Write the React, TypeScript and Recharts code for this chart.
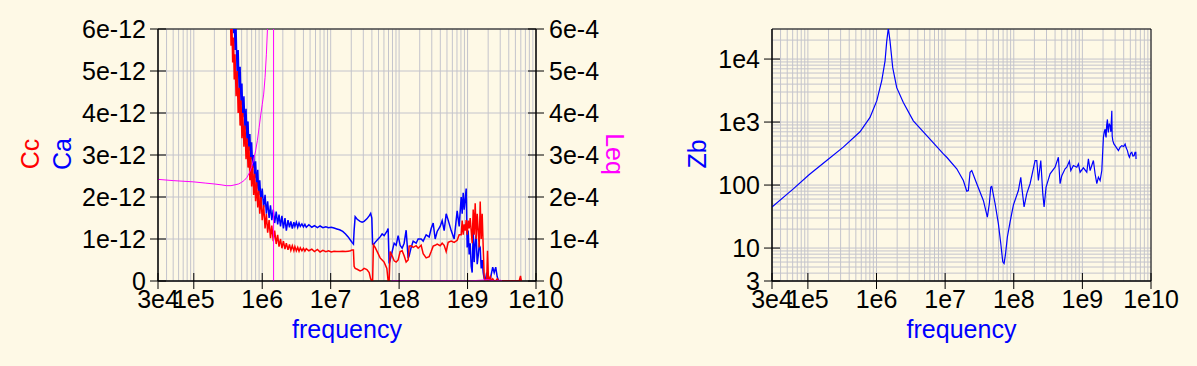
import React from 'react';
import { LineChart, Line, XAxis, YAxis, CartesianGrid, ReferenceArea } from 'recharts';

const FONT = '"Liberation Sans", Arial, Helvetica, sans-serif';
const BG = '#fef9e6';
const GRID = '#c4c4cc';
const FS = 25;

// ---------- axis tick labels ----------
const xMajorTicks = [3e4, 1e5, 1e6, 1e7, 1e8, 1e9, 1e10];
const xMajorLabels = ['3e4', '1e5', '1e6', '1e7', '1e8', '1e9', '1e10'];
const cTicks = [0, 1e-12, 2e-12, 3e-12, 4e-12, 5e-12, 6e-12];
const cLabels = ['0', '1e-12', '2e-12', '3e-12', '4e-12', '5e-12', '6e-12'];
const leqTicks = [0, 1e-4, 2e-4, 3e-4, 4e-4, 5e-4, 6e-4];
const leqLabels = ['0', '1e-4', '2e-4', '3e-4', '4e-4', '5e-4', '6e-4'];
const zbMajorTicks = [3, 10, 100, 1000, 10000];
const zbMajorLabels = ['3', '10', '100', '1e3', '1e4'];

// ---------- left panel: Cc (red) and Ca (blue), values in pF ----------
const freqC = [
  3.0e5, 3.1e5, 3.2e5, 3.3e5, 3.4e5, 3.5e5, 3.6e5, 3.7e5, 3.8e5, 3.9e5,
  4.0e5, 4.15e5, 4.3e5, 4.45e5, 4.6e5, 4.75e5, 4.9e5, 5.05e5, 5.2e5, 5.4e5,
  5.6e5, 5.8e5, 6.0e5, 6.2e5, 6.4e5, 6.6e5, 6.8e5, 7.0e5, 7.25e5, 7.5e5,
  7.75e5, 8.0e5, 8.3e5, 8.6e5, 8.9e5, 9.2e5, 9.6e5, 1.0e6, 1.05e6, 1.1e6,
  1.15e6, 1.2e6, 1.26e6, 1.32e6, 1.38e6, 1.45e6, 1.52e6, 1.6e6, 1.68e6, 1.76e6,
  1.85e6, 1.94e6, 2.04e6, 2.15e6, 2.25e6, 2.38e6, 2.5e6, 2.62e6, 2.75e6, 2.9e6,
  3.0e6, 3.15e6, 3.3e6, 3.45e6, 3.6e6, 3.8e6, 4.0e6, 4.2e6, 4.4e6, 4.8e6,
  5.3e6, 5.8e6, 6.4e6, 7.0e6, 7.7e6, 8.5e6, 9.3e6, 1.02e7, 1.12e7, 1.23e7,
  1.35e7, 1.5e7, 1.65e7, 1.8e7, 1.95e7, 2.05e7, 2.15e7, 2.2e7, 2.28e7, 2.44e7,
  2.69e7, 2.88e7, 3.08e7, 3.38e7, 3.65e7, 3.84e7, 3.99e7, 4.1e7, 4.21e7, 4.46e7,
  4.94e7, 5.28e7, 5.65e7, 6.04e7, 6.62e7, 6.91e7, 7.15e7, 7.4e7, 7.91e7, 8.46e7,
  9.05e7, 9.68e7, 1.035e8, 1.107e8, 1.184e8, 1.267e8, 1.355e8, 1.401e8, 1.499e8, 1.604e8,
  1.774e8, 1.898e8, 2.099e8, 2.246e8, 2.484e8, 2.748e8, 2.939e8, 3.145e8, 3.363e8, 3.597e8,
  3.979e8, 4.256e8, 4.553e8, 4.87e8, 5.21e8, 5.763e8, 6.375e8, 7.052e8, 7.544e8, 8.07e8,
  8.346e8, 8.633e8, 8.93e8, 9.232e8, 9.548e8, 9.874e8, 1.021e9, 1.056e9, 1.092e9, 1.13e9,
  1.168e9, 1.209e9, 1.25e9, 1.293e9, 1.337e9, 1.383e9, 1.43e9, 1.479e9, 1.53e9, 1.582e9,
  1.636e9, 1.693e9, 1.751e9, 1.81e9, 1.904e9, 1.956e9, 2.023e9, 2.142e9, 2.215e9, 2.331e9,
  2.451e9, 2.578e9, 2.711e9, 2.852e9, 3.55e9, 5.686e9, 5.94e9, 6.08e9,
];

const ccPF = [
  7.6, 7.1, 6.9, 6.2, 6.7, 5.6, 6.2, 5.2, 5.8, 4.8,
  5.4, 4.4, 5.0, 4.0, 4.6, 3.7, 4.3, 3.4, 4.0, 3.2,
  3.7, 2.9, 3.4, 2.7, 3.2, 2.4, 2.95, 2.25, 2.75, 2.05,
  2.55, 1.9, 2.35, 1.75, 2.15, 1.6, 2.0, 1.45, 1.8, 1.25,
  1.6, 1.15, 1.45, 1.02, 1.32, 0.95, 1.2, 0.88, 1.1, 0.82,
  1.0, 0.78, 0.95, 0.76, 0.9, 0.74, 0.87, 0.73, 0.84, 0.72,
  0.82, 0.72, 0.8, 0.71, 0.79, 0.72, 0.78, 0.71, 0.77, 0.72,
  0.76, 0.7, 0.75, 0.69, 0.73, 0.7, 0.72, 0.69, 0.71, 0.7,
  0.7, 0.71, 0.7, 0.71, 0.72, 0.74, 0.74, 0.35, 0.3, 0.28,
  0.24, 0.26, 0.3, 0.27, 0.2, 0.05, 0.0, 0.0, 0.86, 0.8,
  0.65, 0.55, 0.5, 0.45, 0.3, 0.0, 0.0, 0.7, 0.6, 0.48,
  0.45, 0.5, 0.7, 0.72, 0.6, 0.45, 0.5, 0.83, 0.84, 0.8,
  0.84, 0.78, 0.85, 0.65, 0.55, 0.58, 0.7, 0.83, 0.85, 0.88,
  0.84, 0.9, 0.85, 0.7, 0.92, 0.95, 0.92, 0.97, 1.1, 1.1,
  1.44, 1.1, 1.35, 1.2, 1.45, 1.1, 1.44, 1.25, 1.5, 1.2,
  0.9, 1.7, 1.1, 1.85, 1.0, 1.6, 1.2, 0.8, 1.89, 1.0,
  1.6, 0.8, 0.1, 0.0, 0.0, 0.72, 0.0, 0.1, 0.0, 0.05,
  0.0, 0.0, 0.05, 0.0, 0.0, 0.0, 0.12, 0.0,
];

const caPF = [
  8.5, 8.0, 7.6, 7.2, 7.0, 6.8, 6.4, 6.7, 5.9, 6.3,
  5.5, 6.0, 4.9, 5.5, 4.5, 5.1, 4.2, 4.7, 3.9, 4.4,
  3.6, 4.1, 3.3, 3.8, 3.1, 3.5, 2.9, 3.3, 2.7, 3.0,
  2.45, 2.85, 2.2, 2.65, 2.05, 2.4, 1.9, 2.2, 1.75, 2.05,
  1.6, 1.9, 1.5, 1.8, 1.45, 1.7, 1.38, 1.65, 1.35, 1.58,
  1.3, 1.55, 1.25, 1.5, 1.2, 1.45, 1.28, 1.42, 1.25, 1.4,
  1.3, 1.4, 1.28, 1.38, 1.3, 1.36, 1.29, 1.35, 1.28, 1.34,
  1.28, 1.32, 1.27, 1.31, 1.27, 1.29, 1.27, 1.28, 1.26, 1.24,
  1.22, 1.18, 1.12, 1.05, 0.97, 0.92, 0.88, 1.2, 1.53, 1.47,
  1.42, 1.4, 1.42, 1.48, 1.55, 1.61, 1.5, 0.88, 0.86, 0.92,
  1.0, 1.05, 1.12, 1.08, 1.18, 1.25, 0.42, 0.5, 0.7, 0.9,
  0.85, 1.08, 0.85, 0.78, 0.9, 1.21, 0.54, 0.6, 0.8, 0.95,
  0.9, 1.0, 1.0, 0.95, 1.1, 1.05, 1.25, 1.38, 1.0, 1.18,
  1.3, 1.44, 1.2, 1.6, 1.45, 1.2, 1.0, 1.67, 1.3, 2.0,
  1.6, 2.1, 1.7, 1.95, 2.2, 0.8, 1.2, 0.63, 0.9, 0.35,
  0.2, 1.2, 0.45, 0.9, 1.1, 0.4, 0.6, 0.85, 0.8, 0.3,
  0.5, 0.2, 0.05, 0.0, 0.2, 0.0, 0.05, 0.0, 0.15, 0.33,
  0.2, 0.33, 0.1, 0.0, 0.0, 0.0, 0.05, 0.0,
];

// ---------- left panel: Leq (magenta), values in 1e-4 ----------
const freqL = [
  3e4, 5e4, 1e5, 1.5e5, 2e5, 2.5e5, 3e5, 3.5e5, 4e5, 4.5e5,
  5e5, 5.5e5, 6e5, 6.5e5, 7e5, 7.5e5, 8e5, 8.5e5, 9e5, 9.5e5,
  1.0e6, 1.05e6, 1.1e6, 1.15e6, 1.2e6, 1.25e6, 1.3e6, 1.4e6, 1.46e6, 1.47e6,
  1.6e6, 2e6, 5e6, 1e7, 3e7, 6e7, 7.2e7, 7.6e7, 1e8, 2e8,
  5e8, 1e9, 2e9, 2.5e9, 3e9, 3.2e9, 3.3e9,
];
const leqE4 = [
  2.42, 2.39, 2.36, 2.33, 2.31, 2.29, 2.27, 2.27, 2.29, 2.31,
  2.35, 2.4, 2.47, 2.58, 2.72, 2.9, 3.1, 3.35, 3.65, 3.95,
  4.2, 4.45, 4.85, 5.4, 6.1, 7.0, 9.0, 20, 400, -400,
  -60, -15, -4, -2, -0.8, -0.2, -0.05, 0.0, 0.01, 0.0,
  0.01, 0.0, 0.03, 0.0, 0.02, 0.0, -0.5,
];

// ---------- right panel: Zb ----------
const freqZ = [
  3.0e4, 6.13e4, 1.05e5, 1.88e5, 3.28e5, 5.75e5, 8.04e5, 1.008e6, 1.19e6, 1.331e6,
  1.41e6, 1.487e6, 1.574e6, 1.724e6, 1.971e6, 2.46e6, 3.44e6, 5.4e6, 9.42e6, 1.056e7,
  1.477e7, 1.843e7, 2.067e7, 2.18e7, 2.308e7, 2.444e7, 2.891e7, 3.607e7, 4.126e7, 4.412e7,
  4.624e7, 4.782e7, 5.342e7, 5.968e7, 6.468e7, 6.918e7, 7.226e7, 7.549e7, 8.072e7, 8.841e7,
  9.874e7, 1.168e8, 1.266e8, 1.309e8, 1.414e8, 1.548e8, 1.729e8, 2.046e8, 2.165e8, 2.285e8,
  2.477e8, 2.649e8, 2.767e8, 2.959e8, 3.384e8, 4.003e8, 4.472e8, 4.734e8, 5.012e8, 5.6e8,
  5.929e8, 6.468e8, 6.78e8, 7.398e8, 8.295e8, 8.75e8, 9.265e8, 1.035e9, 1.16e9, 1.224e9,
  1.296e9, 1.448e9, 1.532e9, 1.623e9, 1.712e9, 1.813e9, 1.919e9, 2.025e9, 2.08e9, 2.144e9,
  2.18e9, 2.217e9, 2.26e9, 2.317e9, 2.35e9, 2.395e9, 2.45e9, 2.536e9, 2.6e9, 2.685e9,
  2.72e9, 2.777e9, 2.88e9, 3.0e9, 3.15e9, 3.351e9, 3.55e9, 3.756e9, 4.0e9, 4.196e9,
  4.35e9, 4.532e9, 4.7e9, 4.848e9, 5.05e9, 5.254e9, 5.45e9, 5.675e9, 5.85e9, 6.008e9,
  6.05e9,
];
const zbVals = [
  44.8, 87, 147, 245, 400, 700, 1183, 2168, 4486, 9290,
  19230, 31000, 19230, 7280, 3520, 2040, 1047, 608, 312, 276,
  181, 118, 80, 82, 160, 170, 105, 57, 31, 51,
  93, 95, 51, 24.4, 11.8, 6.05, 5.7, 7.7, 15, 26,
  48, 82, 133, 93, 45, 73, 105, 245, 245, 118,
  245, 73, 45, 93, 151, 192, 276, 105, 141, 181,
  192, 239, 170, 204, 192, 217, 160, 188, 160, 260,
  170, 245, 151, 105, 133, 118, 170, 571, 700, 774,
  620, 571, 900, 1100, 780, 685, 950, 873, 700, 1507,
  600, 506, 450, 422, 390, 352, 400, 422, 410, 449,
  390, 352, 300, 276, 320, 331, 290, 293, 330, 331,
  260,
];

// ---------- helpers ----------
function logGrid(lo: number, hi: number): number[] {
  const out: number[] = [];
  const e0 = Math.floor(Math.log10(lo));
  const e1 = Math.ceil(Math.log10(hi));
  for (let e = e0; e <= e1; e++) {
    for (let m = 1; m <= 9; m++) {
      const v = Number((m * Math.pow(10, e)).toPrecision(6));
      if (v >= lo * (1 - 1e-9) && v <= hi * (1 + 1e-9)) out.push(v);
    }
  }
  return out;
}
const xGridTicks = logGrid(3e4, 1e10);
const zbGridTicks = logGrid(3, 3e4);

const ccData = freqC.map((f, i) => ({ f, v: ccPF[i] * 1e-12 }));
const caData = freqC.map((f, i) => ({ f, v: caPF[i] * 1e-12 }));
const leqData = freqL.map((f, i) => ({ f, v: leqE4[i] * 1e-4 }));
const zbData = freqZ.map((f, i) => ({ f, v: zbVals[i] }));

function matchIdx(majors: number[], v: number): number {
  return majors.findIndex((m) => (m === 0 ? Math.abs(v) < 1e-30 : Math.abs(v / m - 1) < 1e-6));
}

function makeTick(majors: number[], labels: string[], side: 'bottom' | 'left' | 'right') {
  return (props: any) => {
    const { x, y, payload } = props;
    const i = matchIdx(majors, payload?.value);
    if (i < 0) return <g />;
    if (side === 'bottom') {
      return (
        <g>
          <line x1={x} x2={x} y1={y - 8} y2={y + 8} stroke="#000" strokeWidth={1} />
          <text x={x} y={y + 27} textAnchor="middle" fontSize={FS} fontFamily={FONT} fill="#000">
            {labels[i]}
          </text>
        </g>
      );
    }
    if (side === 'left') {
      return (
        <g>
          <line x1={x - 8} x2={x + 8} y1={y} y2={y} stroke="#000" strokeWidth={1} />
          <text x={x - 12} y={y + 9} textAnchor="end" fontSize={FS} fontFamily={FONT} fill="#000">
            {labels[i]}
          </text>
        </g>
      );
    }
    return (
      <g>
        <line x1={x - 8} x2={x + 8} y1={y} y2={y} stroke="#000" strokeWidth={1} />
        <text x={x + 13} y={y + 9} textAnchor="start" fontSize={FS} fontFamily={FONT} fill="#000">
          {labels[i]}
        </text>
      </g>
    );
  };
}

const xTick = makeTick(xMajorTicks, xMajorLabels, 'bottom');
const cTick = makeTick(cTicks, cLabels, 'left');
const leqTick = makeTick(leqTicks, leqLabels, 'right');
const zbTick = makeTick(zbMajorTicks, zbMajorLabels, 'left');

const txt = { fontSize: FS, fontFamily: FONT } as const;

export default function App() {
  return (
    <div
      style={{
        position: 'absolute',
        left: 0,
        top: 0,
        width: 1197,
        height: 366,
        background: BG,
        overflow: 'hidden',
      }}
    >
      <div style={{ position: 'absolute', left: 0, top: 0 }}>
        <LineChart width={660} height={366} margin={{ top: 29, right: 60, bottom: 0, left: 0 }}>
          <CartesianGrid stroke={GRID} strokeWidth={1} yAxisId="c" />
          <XAxis
            dataKey="f"
            type="number"
            scale="log"
            domain={[3e4, 1e10]}
            allowDataOverflow
            ticks={xGridTicks}
            interval={0}
            tick={xTick}
            tickLine={false}
            tickSize={0}
            tickMargin={0}
            axisLine={{ stroke: '#000' }}
            height={85}
            label={() => (
              <text x={347} y={338} textAnchor="middle" fill="#0000ff" {...txt}>
                frequency
              </text>
            )}
          />
          <YAxis
            yAxisId="c"
            type="number"
            domain={[0, 6e-12]}
            allowDataOverflow
            ticks={cTicks}
            interval={0}
            tick={cTick}
            tickLine={false}
            tickSize={0}
            tickMargin={0}
            axisLine={{ stroke: '#000' }}
            width={158}
            label={() => (
              <g>
                <text transform="translate(39,154) rotate(-90)" textAnchor="middle" fill="#ff0000" {...txt}>
                  Cc
                </text>
                <text transform="translate(71,154) rotate(-90)" textAnchor="middle" fill="#0000ff" {...txt}>
                  Ca
                </text>
              </g>
            )}
          />
          <YAxis
            yAxisId="leq"
            orientation="right"
            type="number"
            domain={[0, 6e-4]}
            allowDataOverflow
            ticks={leqTicks}
            interval={0}
            tick={leqTick}
            tickLine={false}
            tickSize={0}
            tickMargin={0}
            axisLine={{ stroke: '#000' }}
            width={64}
            label={() => (
              <text transform="translate(606,154) rotate(90)" textAnchor="middle" fill="#ff00ff" {...txt}>
                Leq
              </text>
            )}
          />
          <ReferenceArea yAxisId="c" x1={3e4} x2={1e10} y1={0} y2={6e-12} fill="none" stroke="#000" strokeWidth={1} />
          <Line yAxisId="c" data={caData} dataKey="v" stroke="#0000ff" strokeWidth={1.5} dot={false} isAnimationActive={false} />
          <Line yAxisId="c" data={ccData} dataKey="v" stroke="#ff0000" strokeWidth={1.5} dot={false} isAnimationActive={false} />
          <Line yAxisId="leq" data={leqData} dataKey="v" stroke="#ff00ff" strokeWidth={1} dot={false} isAnimationActive={false} />
        </LineChart>
      </div>

      <div style={{ position: 'absolute', left: 600, top: 0 }}>
        <LineChart width={597} height={366} margin={{ top: 29, right: 46, bottom: 0, left: 0 }}>
          <CartesianGrid stroke={GRID} strokeWidth={1} />
          <XAxis
            dataKey="f"
            type="number"
            scale="log"
            domain={[3e4, 1e10]}
            allowDataOverflow
            ticks={xGridTicks}
            interval={0}
            tick={xTick}
            tickLine={false}
            tickSize={0}
            tickMargin={0}
            axisLine={{ stroke: '#000' }}
            height={85}
            label={() => (
              <text x={361.5} y={338} textAnchor="middle" fill="#0000ff" {...txt}>
                frequency
              </text>
            )}
          />
          <YAxis
            type="number"
            scale="log"
            domain={[3, 30000]}
            allowDataOverflow
            ticks={zbGridTicks}
            interval={0}
            tick={zbTick}
            tickLine={false}
            tickSize={0}
            tickMargin={0}
            axisLine={{ stroke: '#000' }}
            width={172}
            label={() => (
              <text transform="translate(106,154) rotate(-90)" textAnchor="middle" fill="#0000ff" {...txt}>
                Zb
              </text>
            )}
          />
          <ReferenceArea x1={3e4} x2={1e10} y1={3} y2={30000} fill="none" stroke="#000" strokeWidth={1} />
          <Line data={zbData} dataKey="v" stroke="#0000ff" strokeWidth={1.2} dot={false} isAnimationActive={false} />
        </LineChart>
      </div>
    </div>
  );
}
